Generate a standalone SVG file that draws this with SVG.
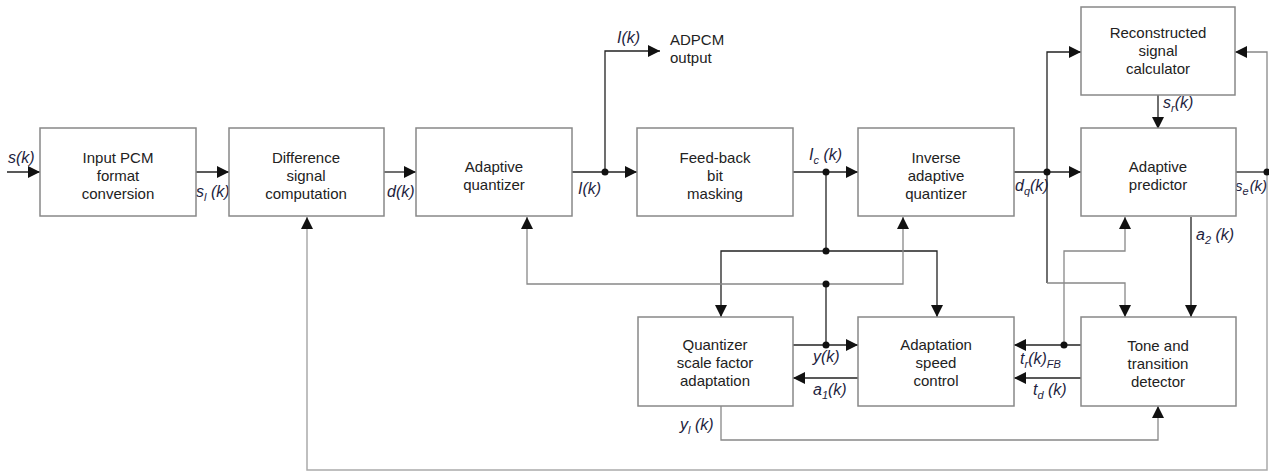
<svg xmlns="http://www.w3.org/2000/svg" width="1269" height="472" viewBox="0 0 1269 472">
<style>
.box{fill:#fff;stroke:#888;stroke-width:1.5}
.t{font-family:"Liberation Sans",Arial,sans-serif;font-size:15px;fill:#222;text-anchor:middle}
.l{font-family:"Liberation Sans",Arial,sans-serif;font-size:16px;font-style:italic;fill:#1e1e40}
.sub{font-size:11px}
.w{fill:none;stroke:#222;stroke-width:1.3}
.g{fill:none;stroke:#888;stroke-width:1.3}
.lg{fill:none;stroke:#aaa;stroke-width:1.5}
.dot{fill:#111}
</style>
<defs>
<marker id="a" markerUnits="userSpaceOnUse" markerWidth="12" markerHeight="12" refX="12" refY="6" orient="auto">
<path d="M0,0 L12,6 L0,12 z" fill="#111"/>
</marker>
</defs>
<g id="connectors">
<path class="w" d="M7,172 H40" marker-end="url(#a)"/>
<path class="w" d="M196,172 H229" marker-end="url(#a)"/>
<path class="w" d="M384,172 H416" marker-end="url(#a)"/>
<path class="w" d="M572,172 H637" marker-end="url(#a)"/>
<path class="w" d="M605,172 V51 H660" marker-end="url(#a)"/>
<path class="w" d="M793,172 H858" marker-end="url(#a)"/>
<path class="w" d="M826,172 V251"/>
<path class="w" d="M826,251 H721 V317" marker-end="url(#a)"/>
<path class="w" d="M826,251 H937 V317" marker-end="url(#a)"/>
<path class="w" d="M793,345 H858" marker-end="url(#a)"/>
<path class="w" d="M826,345 V284"/>
<path class="g" d="M826,284 H527 V217" marker-end="url(#a)"/>
<path class="g" d="M826,284 H903 V217" marker-end="url(#a)"/>
<path class="w" d="M858,378 H793" marker-end="url(#a)"/>
<path class="g" d="M721,406 V440 H1158 V406" marker-end="url(#a)"/>
<path class="w" d="M1014,172 H1081" marker-end="url(#a)"/>
<path class="w" d="M1047,172 V52 H1081" marker-end="url(#a)"/>
<path class="w" d="M1047,172 V283"/>
<path class="g" d="M1047,283 H1125 V317" marker-end="url(#a)"/>
<path class="w" d="M1158,95 V129" marker-end="url(#a)"/>
<path class="w" d="M1236,172 H1267"/>
<path class="g" d="M1267,172 V52 H1235" marker-end="url(#a)"/>
<path class="lg" d="M1267,172 V470 H307 V217" marker-end="url(#a)"/>
<path class="w" d="M1191,217 V317" marker-end="url(#a)"/>
<path class="w" d="M1081,345 H1014" marker-end="url(#a)"/>
<path class="g" d="M1064,345 V251 H1125 V217" marker-end="url(#a)"/>
<path class="w" d="M1081,378 H1014" marker-end="url(#a)"/>
<circle class="dot" cx="605" cy="172" r="3.5"/>
<circle class="dot" cx="826" cy="172" r="3.5"/>
<circle class="dot" cx="826" cy="251" r="3.5"/>
<circle class="dot" cx="826" cy="284" r="3.5"/>
<circle class="dot" cx="826" cy="345" r="3.5"/>
<circle class="dot" cx="1047" cy="172" r="3.5"/>
<circle class="dot" cx="1064" cy="345" r="3.5"/>
<circle class="dot" cx="1267" cy="172" r="3.5"/>
</g>
<g id="labels">
<text class="l" x="8" y="163">s(k)</text>
<text class="l" x="196" y="197">s<tspan class="sub" dy="4">l</tspan><tspan dy="-4"> (k)</tspan></text>
<text class="l" x="387" y="197">d(k)</text>
<text class="l" x="578" y="194">I(k)</text>
<text class="l" x="617" y="43">I(k)</text>
<text class="t" x="670" y="45" style="text-anchor:start">ADPCM</text>
<text class="t" x="670" y="63" style="text-anchor:start">output</text>
<text class="l" x="809" y="160">I<tspan class="sub" dy="4">c</tspan><tspan dy="-4"> (k)</tspan></text>
<text class="l" x="1015" y="191">d<tspan class="sub" dy="4">q</tspan><tspan dy="-4">(k)</tspan></text>
<text class="l" x="1235" y="191" style="font-size:15px">s<tspan class="sub" dy="4">e</tspan><tspan dy="-4" dx="1">(k)</tspan></text>
<text class="l" x="1163" y="108">s<tspan class="sub" dy="4">r</tspan><tspan dy="-4">(k)</tspan></text>
<text class="l" x="1196" y="240">a<tspan class="sub" dy="4">2</tspan><tspan dy="-4"> (k)</tspan></text>
<text class="l" x="813" y="362">y(k)</text>
<text class="l" x="813" y="395">a<tspan class="sub" dy="4">1</tspan><tspan dy="-4">(k)</tspan></text>
<text class="l" x="680" y="430">y<tspan class="sub" dy="4">l</tspan><tspan dy="-4"> (k)</tspan></text>
<text class="l" x="1020" y="364">t<tspan class="sub" dy="4">r</tspan><tspan dy="-4">(k)</tspan><tspan class="sub" dy="4">FB</tspan></text>
<text class="l" x="1033" y="395">t<tspan class="sub" dy="4">d</tspan><tspan dy="-4"> (k)</tspan></text>
</g>
<g id="input-pcm">
<rect class="box" x="40" y="128" width="156" height="88"/>
<text class="t" x="118" y="163">Input PCM</text>
<text class="t" x="118" y="181">format</text>
<text class="t" x="118" y="199">conversion</text>
</g>
<g id="difference">
<rect class="box" x="229" y="128" width="155" height="88"/>
<text class="t" x="306" y="163">Difference</text>
<text class="t" x="306" y="181">signal</text>
<text class="t" x="306" y="199">computation</text>
</g>
<g id="adaptive-quantizer">
<rect class="box" x="416" y="128" width="156" height="88"/>
<text class="t" x="494" y="172">Adaptive</text>
<text class="t" x="494" y="190">quantizer</text>
</g>
<g id="feedback-bit-masking">
<rect class="box" x="637" y="128" width="156" height="88"/>
<text class="t" x="715" y="163">Feed-back</text>
<text class="t" x="715" y="181">bit</text>
<text class="t" x="715" y="199">masking</text>
</g>
<g id="inverse-adaptive-quantizer">
<rect class="box" x="858" y="128" width="156" height="88"/>
<text class="t" x="936" y="163">Inverse</text>
<text class="t" x="936" y="181">adaptive</text>
<text class="t" x="936" y="199">quantizer</text>
</g>
<g id="adaptive-predictor">
<rect class="box" x="1081" y="128" width="155" height="88"/>
<text class="t" x="1158" y="172">Adaptive</text>
<text class="t" x="1158" y="190">predictor</text>
</g>
<g id="reconstructed-signal-calculator">
<rect class="box" x="1081" y="7" width="154" height="88"/>
<text class="t" x="1158" y="38">Reconstructed</text>
<text class="t" x="1158" y="56">signal</text>
<text class="t" x="1158" y="74">calculator</text>
</g>
<g id="quantizer-scale-factor-adaptation">
<rect class="box" x="638" y="317" width="155" height="89"/>
<text class="t" x="715" y="350">Quantizer</text>
<text class="t" x="715" y="368">scale factor</text>
<text class="t" x="715" y="386">adaptation</text>
</g>
<g id="adaptation-speed-control">
<rect class="box" x="858" y="317" width="156" height="89"/>
<text class="t" x="936" y="350">Adaptation</text>
<text class="t" x="936" y="368">speed</text>
<text class="t" x="936" y="386">control</text>
</g>
<g id="tone-transition-detector">
<rect class="box" x="1081" y="317" width="155" height="89"/>
<text class="t" x="1158" y="351">Tone and</text>
<text class="t" x="1158" y="369">transition</text>
<text class="t" x="1158" y="387">detector</text>
</g>
</svg>
